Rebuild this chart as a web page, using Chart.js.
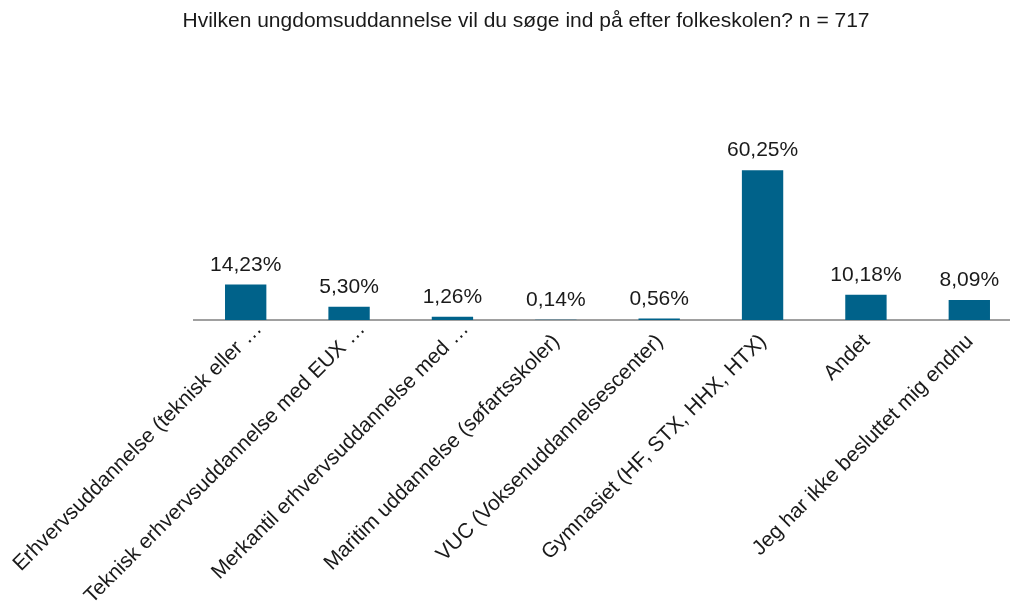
<!DOCTYPE html>
<html>
<head>
<meta charset="utf-8">
<script src="https://cdn.jsdelivr.net/npm/chart.js@4.4.0/dist/chart.umd.min.js"></script>
<style>
    html, body { margin: 0; padding: 0; background: #fff; overflow: hidden; }
    #wrap { position: relative; width: 1021px; height: 603px; }
</style>
</head>
<body>
<div id="wrap"><canvas id="grafico"></canvas></div>
<script>
const tituloTexto = "Hvilken ungdomsuddannelse vil du søge ind på efter folkeskolen? n = 717";

const categorias = [
    "Erhvervsuddannelse (teknisk eller …",
    "Teknisk erhvervsuddannelse med EUX …",
    "Merkantil erhvervsuddannelse med …",
    "Maritim uddannelse (søfartsskoler)",
    "VUC (Voksenuddannelsescenter)",
    "Gymnasiet (HF, STX, HHX, HTX)",
    "Andet",
    "Jeg har ikke besluttet mig endnu"
];

const valores = [14.23, 5.30, 1.26, 0.14, 0.56, 60.25, 10.18, 8.09];

const corBarra = "#00628a";
const fonte = "'Liberation Sans', Arial, sans-serif";

// titulo desenhado a mao, centrado na pagina (nao na area do grafico)
const tituloPlugin = {
    id: "tituloManual",
    afterDraw(chart) {
        const ctx = chart.ctx;
        ctx.save();
        ctx.font = "21px " + fonte;
        ctx.fillStyle = "#1a1a1a";
        ctx.textAlign = "center";
        ctx.textBaseline = "middle";
        ctx.fillText(tituloTexto, 526, 21);
        ctx.restore();
    }
};

// escreve o valor em cima de cada barra (formato dinamarquês: vírgula)
const rotulosPlugin = {
    id: "rotulos",
    afterDatasetsDraw(chart) {
        const ctx = chart.ctx;
        const meta = chart.getDatasetMeta(0);
        ctx.save();
        ctx.font = "21px " + fonte;
        ctx.fillStyle = "#1a1a1a";
        ctx.textAlign = "center";
        ctx.textBaseline = "bottom";
        meta.data.forEach(function (barra, i) {
            const texto = valores[i].toFixed(2).replace(".", ",") + "%";
            ctx.fillText(texto, barra.x, barra.y - 9);
        });
        ctx.restore();
    }
};

function criarGrafico() {
    const el = document.getElementById("grafico");
    new Chart(el, {
        type: "bar",
        data: {
            labels: categorias,
            datasets: [
                {
                    data: valores,
                    backgroundColor: corBarra,
                    barPercentage: 0.4,
                    categoryPercentage: 1,
                },
            ],
        },
        options: {
            animation: false,
            responsive: true,
            maintainAspectRatio: false,
            layout: { padding: { left: 194, right: 0, top: 121, bottom: 0 } },
            plugins: {
                legend: { display: false },
                tooltip: { enabled: false },
                title: { display: false },
            },
            scales: {
                x: {
                    grid: { display: false, drawTicks: false },
                    border: { display: true, color: "#a0a0a0", width: 2 },
                    ticks: {
                        color: "#1a1a1a",
                        autoSkip: false,
                        minRotation: 45,
                        maxRotation: 45,
                        padding: -3,
                        labelOffset: 13,
                        font: { family: fonte, size: 21 },
                        // os rotulos cortados (…) ficam mais acima/direita, como no original
                        callback: function (valor, i) {
                            const txt = categorias[i];
                            return txt.endsWith("…") ? txt : txt + "   ";
                        },
                    },
                    afterFit(scale) {
                        scale.height = 283;
                        scale.paddingLeft = 0;
                        scale.paddingRight = 0;
                    },
                },
                y: {
                    display: false,
                    min: 0,
                    max: 80,
                },
            },
        },
        plugins: [rotulosPlugin, tituloPlugin],
    });
}

document.addEventListener("DOMContentLoaded", function () {
    criarGrafico();
});
</script>
</body>
</html>
